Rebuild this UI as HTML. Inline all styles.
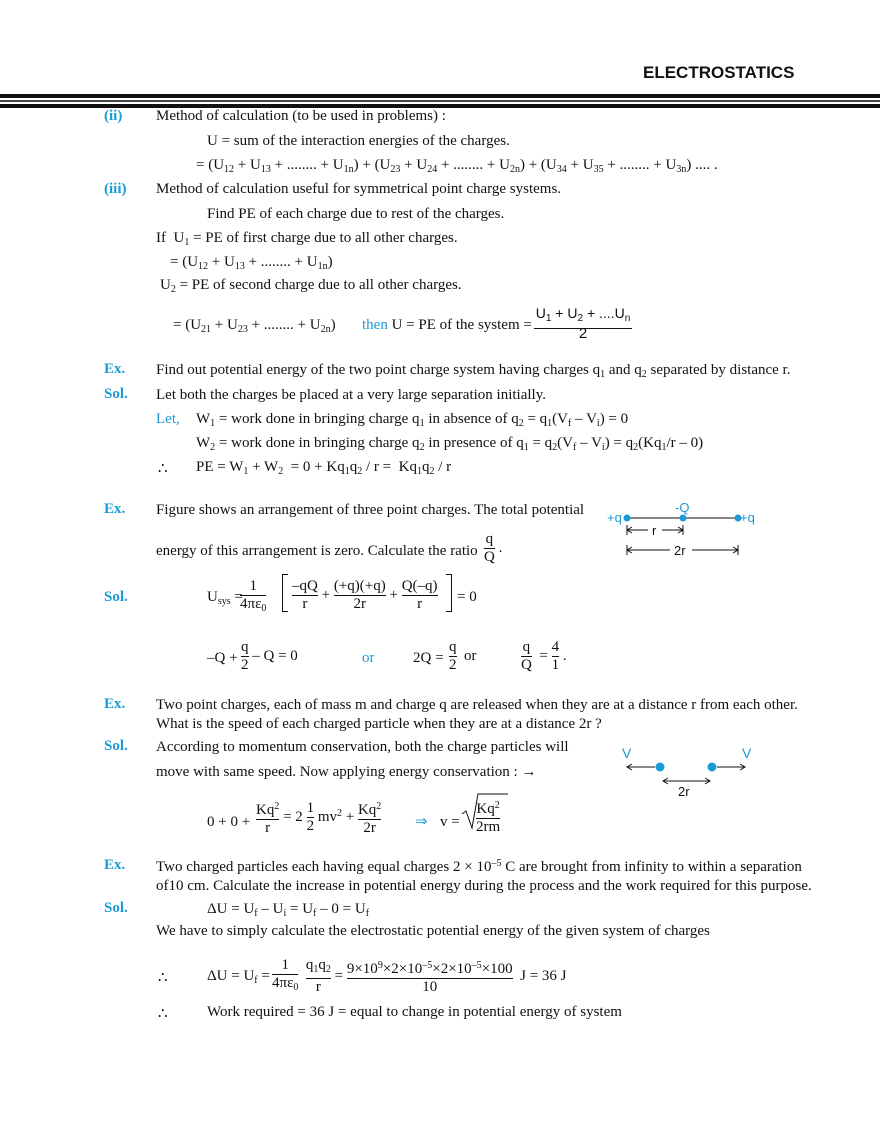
<!DOCTYPE html>
<html><head><meta charset="utf-8"><style>
body{margin:0;width:880px;height:1139px;background:#fff;position:relative;font-family:"Liberation Serif",serif;font-size:15px;color:#111;overflow:hidden}
.a{position:absolute;white-space:nowrap}
.b{color:#1a9ad6}
.bb{color:#1a9ad6;font-weight:bold;font-size:15px}
sub{font-size:10px;vertical-align:-3px}
sup{font-size:10px;vertical-align:5px}
.fr{display:inline-block;text-align:center;vertical-align:middle}
.fr span{display:block;line-height:17px}
.fr .n{border-bottom:1px solid #111}
.s{font-family:"Liberation Sans",sans-serif}
</style></head><body>
<div class="a s" style="left:643px;top:63px;font-size:17px;font-weight:bold">ELECTROSTATICS</div>
<div class="a" style="left:0;top:94px;width:880px;height:4px;background:#111"></div>
<div class="a" style="left:0;top:100px;width:880px;height:2px;background:#444"></div>
<div class="a" style="left:0;top:104px;width:880px;height:4px;background:#111"></div>

<div class="a b" style="left:104px;top:108px;font-weight:bold">(ii)</div>
<div class="a" style="left:156px;top:108px">Method of calculation (to be used in problems) :</div>
<div class="a" style="left:207px;top:133px">U = sum of the interaction energies of the charges.</div>
<div class="a" style="left:196px;top:157px">= (U<sub>12</sub> + U<sub>13</sub> + ........ + U<sub>1n</sub>) + (U<sub>23</sub> + U<sub>24</sub> + ........ + U<sub>2n</sub>) + (U<sub>34</sub> + U<sub>35</sub> + ........ + U<sub>3n</sub>) .... .</div>
<div class="a b" style="left:104px;top:181px;font-weight:bold">(iii)</div>
<div class="a" style="left:156px;top:181px">Method of calculation useful for symmetrical point charge systems.</div>
<div class="a" style="left:207px;top:206px">Find PE of each charge due to rest of the charges.</div>
<div class="a" style="left:156px;top:230px">If &nbsp;U<sub>1</sub> = PE of first charge due to all other charges.</div>
<div class="a" style="left:170px;top:254px">= (U<sub>12</sub> + U<sub>13</sub> + ........ + U<sub>1n</sub>)</div>
<div class="a" style="left:160px;top:277px">U<sub>2</sub> = PE of second charge due to all other charges.</div>
<div class="a" style="left:173px;top:317px">= (U<sub>21</sub> + U<sub>23</sub> + ........ + U<sub>2n</sub>)</div>
<div class="a" style="left:362px;top:317px"><span class="b">then</span> U = PE of the system = </div>
<div class="a s" style="left:534px;top:304px;width:98px;text-align:center;font-size:14px;border-bottom:1px solid #111;line-height:19px">U<sub>1</sub> + U<sub>2</sub> + ....U<sub>n</sub></div>
<div class="a s" style="left:534px;top:325px;width:98px;text-align:center">2</div>

<div class="a bb" style="left:104px;top:361px">Ex.</div>
<div class="a" style="left:156px;top:362px">Find out potential energy of the two point charge system having charges q<sub>1</sub> and q<sub>2</sub> separated by distance r.</div>
<div class="a bb" style="left:104px;top:386px">Sol.</div>
<div class="a" style="left:156px;top:387px">Let both the charges be placed at a very large separation initially.</div>
<div class="a b" style="left:156px;top:411px">Let,</div>
<div class="a" style="left:196px;top:411px">W<sub>1</sub> = work done in bringing charge q<sub>1</sub> in absence of q<sub>2</sub> = q<sub>1</sub>(V<sub>f</sub> – V<sub>i</sub>) = 0</div>
<div class="a" style="left:196px;top:435px">W<sub>2</sub> = work done in bringing charge q<sub>2</sub> in presence of q<sub>1</sub> = q<sub>2</sub>(V<sub>f</sub> – V<sub>i</sub>) = q<sub>2</sub>(Kq<sub>1</sub>/r – 0)</div>
<div class="a" style="left:158px;top:459px">∴</div>
<div class="a" style="left:196px;top:459px">PE = W<sub>1</sub> + W<sub>2</sub> &nbsp;= 0 + Kq<sub>1</sub>q<sub>2</sub> / r = &nbsp;Kq<sub>1</sub>q<sub>2</sub> / r</div>

<div class="a bb" style="left:104px;top:501px">Ex.</div>
<div class="a" style="left:156px;top:502px">Figure shows an arrangement of three point charges. The total potential</div>
<div class="a" style="left:156px;top:543px">energy of this arrangement is zero. Calculate the ratio</div>
<div class="a" style="left:484px;top:531px"><span class="fr"><span class="n">q</span><span>Q</span></span> .</div>
<svg class="a" style="left:590px;top:495px" width="180" height="70">
<g font-family="Liberation Sans" font-size="13" fill="#1a9ad6">
<text x="17" y="27">+q</text><text x="85" y="17">-Q</text><text x="150" y="27">+q</text></g>
<line x1="37" y1="23" x2="148" y2="23" stroke="#111" stroke-width="1"/>
<circle cx="37" cy="23" r="3.5" fill="#1a9ad6"/><circle cx="93" cy="23" r="3.5" fill="#1a9ad6"/><circle cx="148" cy="23" r="3.5" fill="#1a9ad6"/>
<g stroke="#111" fill="none" stroke-width="1">
<line x1="37" y1="30" x2="37" y2="40"/><line x1="93" y1="30" x2="93" y2="40"/><line x1="37" y1="35" x2="58" y2="35"/><line x1="72" y1="35" x2="93" y2="35"/>
<line x1="37" y1="50" x2="37" y2="60"/><line x1="148" y1="50" x2="148" y2="60"/><line x1="37" y1="55" x2="80" y2="55"/><line x1="102" y1="55" x2="148" y2="55"/>
<path d="M42 32L37 35L42 38M88 32L93 35L88 38M42 52L37 55L42 58M143 52L148 55L143 58"/></g>
<g font-family="Liberation Sans" font-size="13" fill="#111"><text x="62" y="40">r</text><text x="84" y="60">2r</text></g>
</svg>

<div class="a bb" style="left:104px;top:589px">Sol.</div>
<div class="a" style="left:207px;top:589px">U<sub>sys</sub> =</div>
<div class="a" style="left:240px;top:578px"><span class="fr"><span class="n">&nbsp;1&nbsp;</span><span>4πε<sub>0</sub></span></span></div>
<div class="a" style="left:282px;top:574px;width:5px;height:36px;border:1px solid #111;border-right:none"></div>
<div class="a" style="left:292px;top:578px"><span class="fr"><span class="n">–qQ</span><span>r</span></span> + <span class="fr"><span class="n">(+q)(+q)</span><span>2r</span></span> + <span class="fr"><span class="n">Q(–q)</span><span>r</span></span></div>
<div class="a" style="left:446px;top:574px;width:5px;height:36px;border:1px solid #111;border-left:none"></div>
<div class="a" style="left:457px;top:589px">= 0</div>
<div class="a" style="left:207px;top:650px">–Q + </div>
<div class="a" style="left:241px;top:639px"><span class="fr"><span class="n">q</span><span>2</span></span> – Q = 0</div>
<div class="a b" style="left:362px;top:650px">or</div>
<div class="a" style="left:413px;top:650px">2Q =</div>
<div class="a" style="left:449px;top:639px"><span class="fr"><span class="n">q</span><span>2</span></span> &nbsp;or</div>
<div class="a" style="left:521px;top:639px"><span class="fr"><span class="n">q</span><span>Q</span></span> &nbsp;= <span class="fr"><span class="n">4</span><span>1</span></span> .</div>

<div class="a bb" style="left:104px;top:696px">Ex.</div>
<div class="a" style="left:156px;top:697px">Two point charges, each of mass m and charge q are released when they are at a distance r from each other.</div>
<div class="a" style="left:156px;top:716px">What is the speed of each charged particle when they are at a distance 2r ?</div>
<div class="a bb" style="left:104px;top:738px">Sol.</div>
<div class="a" style="left:156px;top:739px">According to momentum conservation, both the charge particles will</div>
<div class="a" style="left:156px;top:764px">move with same speed. Now applying energy conservation : →</div>
<svg class="a" style="left:615px;top:740px" width="150" height="60">
<g font-family="Liberation Sans" font-size="14" fill="#1a9ad6"><text x="7" y="18">V</text><text x="127" y="18">V</text></g>
<circle cx="45" cy="27" r="4.5" fill="#1a9ad6"/><circle cx="97" cy="27" r="4.5" fill="#1a9ad6"/>
<g stroke="#111" fill="none" stroke-width="1"><line x1="12" y1="27" x2="40" y2="27"/><line x1="102" y1="27" x2="130" y2="27"/><path d="M17 24L12 27L17 30M125 24L130 27L125 30"/>
<line x1="48" y1="41" x2="95" y2="41"/><path d="M53 38L48 41L53 44M90 38L95 41L90 44"/></g>
<text x="63" y="56" font-family="Liberation Sans" font-size="13" fill="#111">2r</text></svg>
<div class="a" style="left:207px;top:814px">0 + 0 +</div>
<div class="a" style="left:256px;top:798px"><span class="fr"><span class="n">Kq<sup>2</sup></span><span>r</span></span> = 2 <span class="fr"><span class="n">1</span><span>2</span></span> mv<sup>2</sup> + <span class="fr"><span class="n">Kq<sup>2</sup></span><span>2r</span></span></div>
<div class="a b" style="left:415px;top:812px">⇒</div>
<div class="a" style="left:440px;top:814px">v =</div>
<svg class="a" style="left:460px;top:792px" width="50" height="40"><path d="M2 22L6 19L12 36L18 2L48 2" stroke="#111" fill="none"/></svg>
<div class="a" style="left:476px;top:797px"><span class="fr"><span class="n">Kq<sup>2</sup></span><span>2rm</span></span></div>

<div class="a bb" style="left:104px;top:857px">Ex.</div>
<div class="a" style="left:156px;top:858px">Two charged particles each having equal charges 2 × 10<sup>–5</sup> C are brought from infinity to within a separation</div>
<div class="a" style="left:156px;top:878px">of10 cm. Calculate the increase in potential energy during the process and the work required for this purpose.</div>
<div class="a bb" style="left:104px;top:900px">Sol.</div>
<div class="a" style="left:207px;top:901px">ΔU = U<sub>f</sub> – U<sub>i</sub> = U<sub>f</sub> – 0 = U<sub>f</sub></div>
<div class="a" style="left:156px;top:923px">We have to simply calculate the electrostatic potential energy of the given system of charges</div>
<div class="a" style="left:158px;top:968px">∴</div>
<div class="a" style="left:207px;top:968px">ΔU = U<sub>f</sub> =</div>
<div class="a" style="left:272px;top:957px"><span class="fr"><span class="n">&nbsp;1&nbsp;</span><span>4πε<sub>0</sub></span></span> &nbsp;<span class="fr"><span class="n">q<sub>1</sub>q<sub>2</sub></span><span>r</span></span> = <span class="fr"><span class="n">9×10<sup>9</sup>×2×10<sup>–5</sup>×2×10<sup>–5</sup>×100</span><span>10</span></span> &nbsp;J = 36 J</div>
<div class="a" style="left:158px;top:1004px">∴</div>
<div class="a" style="left:207px;top:1004px">Work required = 36 J = equal to change in potential energy of system</div>
</body></html>
